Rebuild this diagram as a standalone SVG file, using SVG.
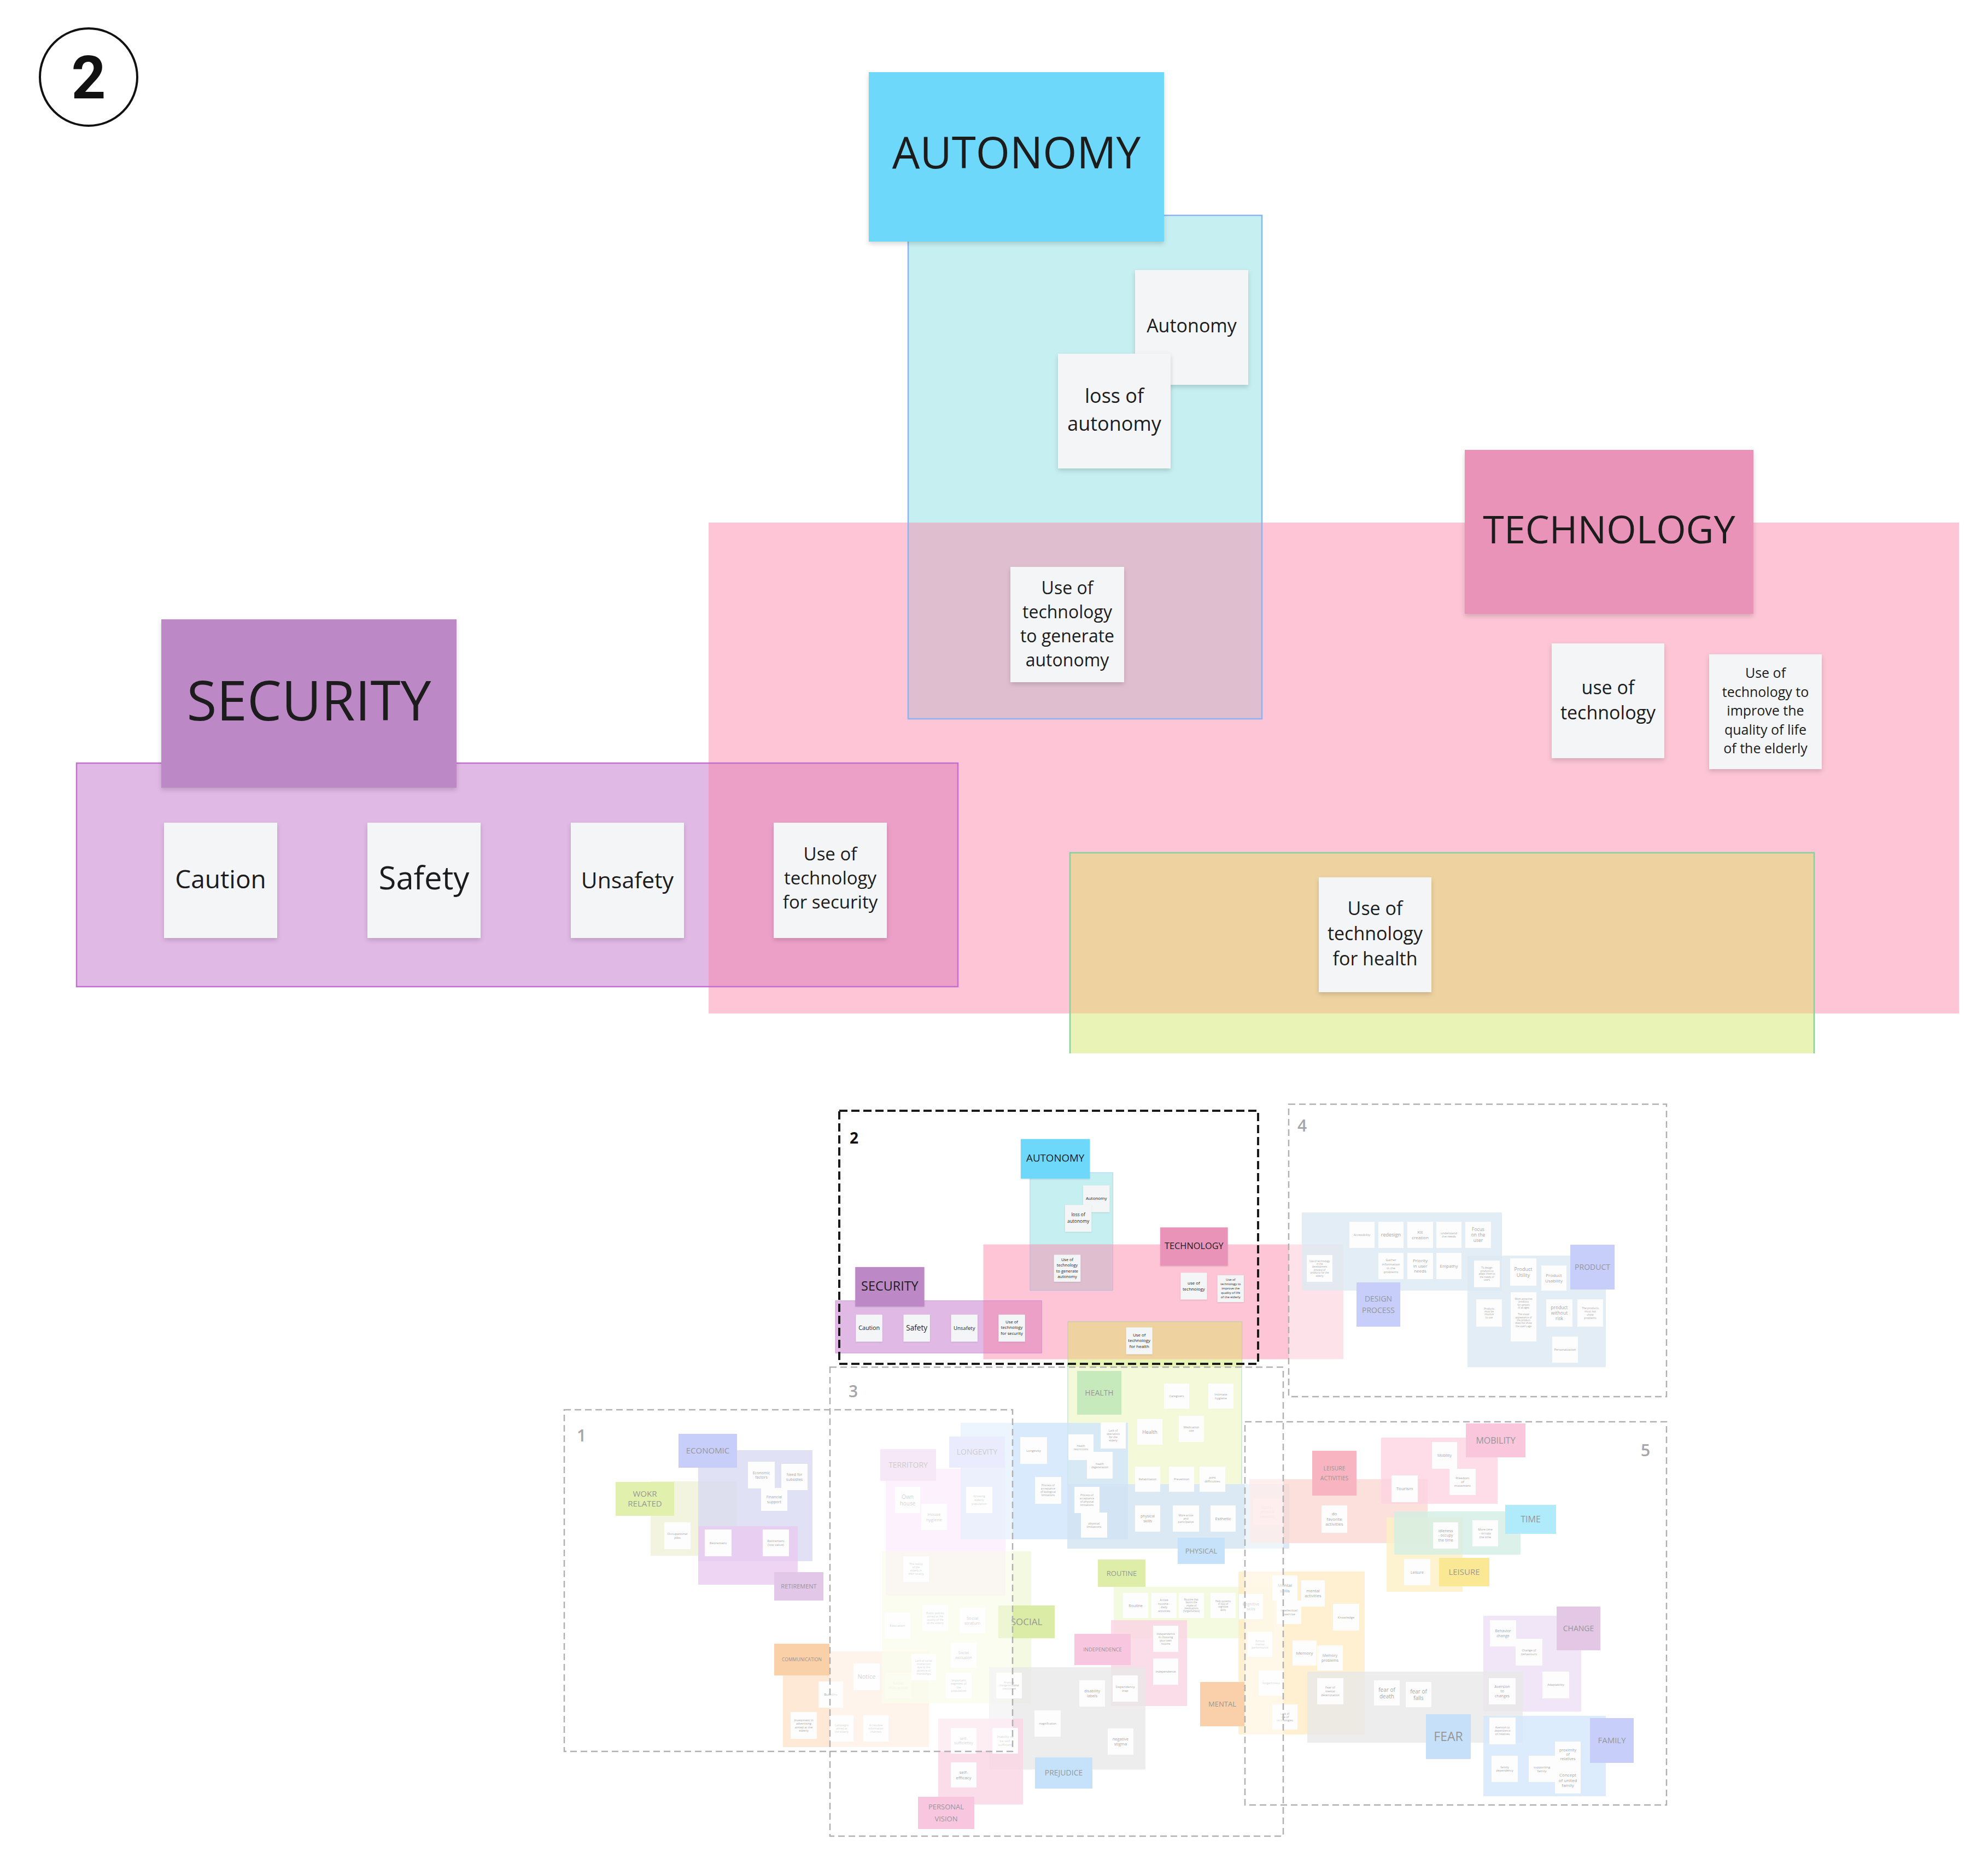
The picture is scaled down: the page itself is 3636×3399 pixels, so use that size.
<svg xmlns="http://www.w3.org/2000/svg" xmlns:xlink="http://www.w3.org/1999/xlink" width="3636" height="3399" viewBox="0 0 3636 3399">
<defs>
<filter id="sh" x="-10%" y="-10%" width="130%" height="130%"><feDropShadow dx="0" dy="4" stdDeviation="4" flood-color="#000" flood-opacity="0.16"/></filter>
<style>
.nt{font-family:"Open Sans","Liberation Sans",sans-serif;fill:#1c1c1c;text-anchor:middle}
.note{fill:#f4f5f7;filter:url(#sh)}
.hd{filter:url(#sh)}
.mn{fill:#fbfbfb}
.mt{font-family:"Open Sans","Liberation Sans",sans-serif;fill:#444;text-anchor:middle}
.mh{font-family:"Open Sans","Liberation Sans",sans-serif;fill:#2a2a2a;text-anchor:middle}
.ar{fill-opacity:0.8}
.fr{fill:none;stroke:#b0b0b0;stroke-width:2.5;stroke-dasharray:12 7}
.ov{fill:#fff;opacity:0.5}
.lb{font-family:"Open Sans","Liberation Sans",sans-serif;font-weight:600;font-size:30px;fill:#a6a6a6}
</style>
</defs>
<rect width="3636" height="3399" fill="#fff"/>

<g id="badge">
<circle cx="162" cy="141" r="89" fill="none" stroke="#111" stroke-width="4"/>
<text x="162" y="180" text-anchor="middle" font-family="Roboto,'Open Sans',sans-serif" font-weight="bold" font-size="110" fill="#111">2</text>
</g>

<g id="connectors"/>

<g id="board">
<g id="areas">
<rect x="1661" y="394" width="647" height="921" fill="#c6eff1"/>
<rect x="1296" y="956" width="2287" height="898" fill="#fdc5d5"/>
<rect x="140" y="1396" width="1612" height="409" fill="#e0b9e5"/>
<rect x="1957" y="1560" width="1361" height="367" fill="#e9f3b5"/>
<rect x="1661" y="956" width="647" height="359" fill="#dfbfcf"/>
<rect x="1296" y="1396" width="456" height="409" fill="#eca0c8"/>
<rect x="1957" y="1560" width="1361" height="294" fill="#eed3a0"/>
<rect x="1661" y="394" width="647" height="921" fill="none" stroke="#8bb5f2" stroke-width="2.5"/>
<rect x="140" y="1396" width="1612" height="409" fill="none" stroke="#c36fd0" stroke-width="2.5"/>
<path d="M1957 1927 V1560 H3318 V1927" fill="none" stroke="#86cfa0" stroke-width="2.5"/>
</g>
<g id="h-autonomy"><rect class="hd" x="1589" y="132" width="540" height="310" fill="#6dd8fa"/><text class="nt" x="1859" y="308" font-size="80">AUTONOMY</text></g>
<g id="h-technology"><rect class="hd" x="2679" y="823" width="528" height="300" fill="#ea93b9"/><text class="nt" x="2943" y="994" font-size="70">TECHNOLOGY</text></g>
<g id="h-security"><rect class="hd" x="295" y="1133" width="540" height="308" fill="#bd88c6"/><text class="nt" x="565" y="1318" font-size="100">SECURITY</text></g>
<g id="n-autonomy"><rect class="note" x="2076" y="494" width="207" height="210"/><text class="nt" x="2179.5" y="608" font-size="34">Autonomy</text></g>
<g id="n-loss"><rect class="note" x="1935" y="647" width="206" height="210"/><text class="nt" font-size="36" y="737"><tspan x="2038">loss of</tspan><tspan x="2038" dy="51">autonomy</tspan></text></g>
<g id="n-gen"><rect class="note" x="1848" y="1037" width="208" height="211"/><text class="nt" font-size="32" y="1087"><tspan x="1952">Use of</tspan><tspan x="1952" dy="44">technology</tspan><tspan x="1952" dy="44">to generate</tspan><tspan x="1952" dy="44">autonomy</tspan></text></g>
<g id="n-use"><rect class="note" x="2838" y="1177" width="206" height="210"/><text class="nt" font-size="34" y="1270"><tspan x="2941">use of</tspan><tspan x="2941" dy="46">technology</tspan></text></g>
<g id="n-improve"><rect class="note" x="3126" y="1197" width="206" height="210"/><text class="nt" font-size="25" y="1240"><tspan x="3229">Use of</tspan><tspan x="3229" dy="34.5">technology to</tspan><tspan x="3229" dy="34.5">improve the</tspan><tspan x="3229" dy="34.5">quality of life</tspan><tspan x="3229" dy="34.5">of the elderly</tspan></text></g>
<g id="n-caution"><rect class="note" x="300" y="1505" width="207" height="211"/><text class="nt" x="403.5" y="1625" font-size="46">Caution</text></g>
<g id="n-safety"><rect class="note" x="672" y="1505" width="207" height="211"/><text class="nt" x="775.5" y="1627" font-size="58">Safety</text></g>
<g id="n-unsafety"><rect class="note" x="1044" y="1505" width="207" height="211"/><text class="nt" x="1147.5" y="1625" font-size="41">Unsafety</text></g>
<g id="n-security"><rect class="note" x="1415" y="1505" width="207" height="211"/><text class="nt" font-size="33" y="1574"><tspan x="1518.5">Use of</tspan><tspan x="1518.5" dy="44">technology</tspan><tspan x="1518.5" dy="44">for security</tspan></text></g>
<g id="n-health"><rect class="note" x="2412" y="1605" width="206" height="210"/><text class="nt" font-size="34" y="1674"><tspan x="2515">Use of</tspan><tspan x="2515" dy="46">technology</tspan><tspan x="2515" dy="46">for health</tspan></text></g>
</g>

<g id="overview">
<rect x="2333" y="2276.5" width="124" height="210" fill="#fdc5d5"/>
<rect x="1953" y="2495" width="318" height="220" fill="#e9f3b5"/>
<path d="M1953 2495 V2715 M2271 2495 V2715" stroke="#86cfa0" stroke-width="1.5" fill="none"/>
<use xlink:href="#board" href="#board" transform="matrix(0.234 0 0 0.234 1495.2 2052.8)"/>

<g id="region4">
<rect class="ar" x="2381" y="2218" width="366" height="143" fill="#b8d2e6"/>
<rect class="ar" x="2684" y="2297" width="253" height="204" fill="#b8d2e6"/>
<g id="h-design"><rect x="2481" y="2346" width="80" height="81" fill="#8f9cf5"/><text class="mh" font-size="14" y="2381"><tspan x="2521">DESIGN</tspan><tspan x="2521" dy="21">PROCESS</tspan></text></g>
<g id="h-product"><rect x="2872" y="2277" width="81" height="82" fill="#8f9cf5"/><text class="mh" x="2912.5" y="2323" font-size="14">PRODUCT</text></g>
<g><rect class="mn" x="2468" y="2235" width="46" height="48"/><text class="mt" x="2491" y="2261" font-size="5.5">Accessibility</text></g>
<g><rect class="mn" x="2521" y="2235" width="46" height="48"/><text class="mt" x="2544" y="2262" font-size="9">redesign</text></g>
<g><rect class="mn" x="2574" y="2235" width="47" height="48"/><text class="mt" font-size="8" y="2257"><tspan x="2597.5">Kit</tspan><tspan x="2597.5" dy="9.6">creation</tspan></text></g>
<g><rect class="mn" x="2627" y="2235" width="46" height="48"/><text class="mt" font-size="5.5" y="2257.6"><tspan x="2650">understand</tspan><tspan x="2650" dy="6.6">the needs</tspan></text></g>
<g><rect class="mn" x="2680" y="2235" width="47" height="48"/><text class="mt" font-size="8.5" y="2251.8"><tspan x="2703.5">Focus</tspan><tspan x="2703.5" dy="10.2">on the</tspan><tspan x="2703.5" dy="10.2">user</tspan></text></g>
<g><rect class="mn" x="2521" y="2292" width="46" height="48"/><text class="mt" font-size="6" y="2307.3"><tspan x="2544">Gather</tspan><tspan x="2544" dy="7.2">information</tspan><tspan x="2544" dy="7.2">in the</tspan><tspan x="2544" dy="7.2">problems</tspan></text></g>
<g><rect class="mn" x="2574" y="2292" width="47" height="48"/><text class="mt" font-size="8" y="2309.2"><tspan x="2597.5">Priority</tspan><tspan x="2597.5" dy="9.6">in user</tspan><tspan x="2597.5" dy="9.6">needs</tspan></text></g>
<g><rect class="mn" x="2627" y="2292" width="46" height="48"/><text class="mt" x="2650" y="2318.8" font-size="8">Empathy</text></g>
<g><rect class="mn" x="2390" y="2296" width="47" height="49"/><text class="mt" font-size="4.5" y="2308.6"><tspan x="2413.5">Use of technology</tspan><tspan x="2413.5" dy="5.4">in the</tspan><tspan x="2413.5" dy="5.4">development</tspan><tspan x="2413.5" dy="5.4">process of</tspan><tspan x="2413.5" dy="5.4">products for the</tspan><tspan x="2413.5" dy="5.4">elderly</tspan></text></g>
<g><rect class="mn" x="2696" y="2306" width="47" height="49"/><text class="mt" font-size="4.5" y="2321.3"><tspan x="2719.5">To design</tspan><tspan x="2719.5" dy="5.4">products to</tspan><tspan x="2719.5" dy="5.4">adapt them to</tspan><tspan x="2719.5" dy="5.4">the needs of</tspan><tspan x="2719.5" dy="5.4">users</tspan></text></g>
<g><rect class="mn" x="2762" y="2302" width="48" height="50"/><text class="mt" font-size="9" y="2324.8"><tspan x="2786">Product</tspan><tspan x="2786" dy="10.8">Utility</tspan></text></g>
<g><rect class="mn" x="2819" y="2315" width="46" height="46"/><text class="mt" font-size="8" y="2336"><tspan x="2842">Product</tspan><tspan x="2842" dy="9.6">Usability</tspan></text></g>
<g><rect class="mn" x="2700" y="2377" width="47" height="50"/><text class="mt" font-size="4.5" y="2395.5"><tspan x="2723.5">Products</tspan><tspan x="2723.5" dy="5.4">must be</tspan><tspan x="2723.5" dy="5.4">intuitive</tspan><tspan x="2723.5" dy="5.4">to use</tspan></text></g>
<g><rect class="mn" x="2763" y="2364" width="47" height="90"/><text class="mt" font-size="4.5" y="2378"><tspan x="2786.5">More attractive</tspan><tspan x="2786.5" dy="5.4">products</tspan><tspan x="2786.5" dy="5.4">for seniors</tspan><tspan x="2786.5" dy="5.4">of all ages</tspan><tspan x="2786.5" dy="12">The visual</tspan><tspan x="2786.5" dy="5.4">appearance of</tspan><tspan x="2786.5" dy="5.4">the product</tspan><tspan x="2786.5" dy="5.4">does not show</tspan><tspan x="2786.5" dy="5.4">the user's age</tspan></text></g>
<g><rect class="mn" x="2828" y="2377" width="48" height="50"/><text class="mt" font-size="8.5" y="2394.8"><tspan x="2852">product</tspan><tspan x="2852" dy="10.2">without</tspan><tspan x="2852" dy="10.2">risk</tspan></text></g>
<g><rect class="mn" x="2885" y="2377" width="47" height="50"/><text class="mt" font-size="5" y="2394.8"><tspan x="2908.5">The products</tspan><tspan x="2908.5" dy="6">must not</tspan><tspan x="2908.5" dy="6">show</tspan><tspan x="2908.5" dy="6">problems</tspan></text></g>
<g><rect class="mn" x="2839" y="2445" width="47" height="48"/><text class="mt" x="2862.5" y="2471" font-size="5.5">Personalization</text></g>
</g>

<g id="region1">
<rect class="ar" x="1190" y="2710" width="157" height="136" fill="#dfe3b0"/>
<rect class="ar" x="1277" y="2653" width="209" height="203" fill="#b0b3e6"/>
<rect class="ar" x="1277" y="2792" width="182" height="107" fill="#d596e4"/>
<rect class="ar" x="1432" y="3021" width="267" height="175" fill="#fcc89a"/>
<g id="h-economic"><rect x="1241" y="2623" width="107" height="62" fill="#8f9cf5"/><text class="mh" x="1294.5" y="2659" font-size="15">ECONOMIC</text></g>
<g id="h-work"><rect x="1126" y="2711" width="107" height="62" fill="#c2e05a"/><text class="mh" font-size="15" y="2738"><tspan x="1179.5">WOKR</tspan><tspan x="1179.5" dy="18">RELATED</tspan></text></g>
<g id="h-retirement"><rect x="1416" y="2876" width="90" height="52" fill="#c58fd3"/><text class="mh" x="1461" y="2906" font-size="11">RETIREMENT</text></g>
<g id="h-communication"><rect x="1416" y="3007" width="101" height="58" fill="#f5a050"/><text class="mh" x="1466.5" y="3039" font-size="8.5">COMMUNICATION</text></g>
<g><rect class="mn" x="1368" y="2674" width="49" height="49"/><text class="mt" font-size="7" y="2696.7"><tspan x="1392.5">Economic</tspan><tspan x="1392.5" dy="8.4">factors</tspan></text></g>
<g><rect class="mn" x="1429" y="2678" width="48" height="48"/><text class="mt" font-size="7" y="2700.3"><tspan x="1453">Need for</tspan><tspan x="1453" dy="8.4">subsidies</tspan></text></g>
<g><rect class="mn" x="1392" y="2722" width="48" height="42"/><text class="mt" font-size="7" y="2741.3"><tspan x="1416">Financial</tspan><tspan x="1416" dy="8.4">support</tspan></text></g>
<g><rect class="mn" x="1215" y="2785" width="48" height="49"/><text class="mt" font-size="6" y="2808"><tspan x="1239">Occupational</tspan><tspan x="1239" dy="7.2">jobs</tspan></text></g>
<g><rect class="mn" x="1289" y="2798" width="49" height="49"/><text class="mt" x="1313.5" y="2824.6" font-size="6">Retirement</text></g>
<g><rect class="mn" x="1395" y="2798" width="48" height="49"/><text class="mt" font-size="6" y="2821"><tspan x="1419">Retirement</tspan><tspan x="1419" dy="7.2">(low value)</tspan></text></g>
<g><rect class="mn" x="1497" y="3076" width="45" height="48"/><text class="mt" x="1519.5" y="3102" font-size="6">Bulletins</text></g>
<g><rect class="mn" x="1561" y="3043" width="48" height="49"/><text class="mt" x="1585" y="3071.4" font-size="11">Notice</text></g>
<g><rect class="mn" x="1619" y="3060" width="48" height="47"/><text class="mt" font-size="7" y="3081.8"><tspan x="1643">Social</tspan><tspan x="1643" dy="8.4">interaction</tspan></text></g>
<g><rect class="mn" x="1446" y="3132" width="48" height="49"/><text class="mt" font-size="5.5" y="3148.5"><tspan x="1470">Investment in</tspan><tspan x="1470" dy="6.6">advertising</tspan><tspan x="1470" dy="6.6">aimed at the</tspan><tspan x="1470" dy="6.6">elderly</tspan></text></g>
<g><rect class="mn" x="1518" y="3138" width="43" height="48"/><text class="mt" font-size="5" y="3157.8"><tspan x="1539.5">Campaigns</tspan><tspan x="1539.5" dy="6">aimed at</tspan><tspan x="1539.5" dy="6">the elderly</tspan></text></g>
<g><rect class="mn" x="1579" y="3138" width="46" height="48"/><text class="mt" font-size="5" y="3157.8"><tspan x="1602">Accessible</tspan><tspan x="1602" dy="6">information</tspan><tspan x="1602" dy="6">channels</tspan></text></g>
</g>

<g id="region3">
<rect class="ar" x="1613" y="2838" width="273" height="278" fill="#e4f2b4"/>
<rect class="ar" x="1620" y="2687" width="219" height="151" fill="#f0b8ee"/>
<rect class="ar" x="1620" y="2838" width="219" height="81" fill="#e8d2c4"/>
<rect class="ar" x="1757" y="2603" width="306" height="213" fill="#9ccbf5"/>
<rect class="ar" x="1757" y="2685" width="82" height="131" fill="#b4b8f0"/>
<rect class="ar" x="1952" y="2715" width="406" height="118" fill="#a5c8e3"/>
<rect class="ar" x="2037" y="2903" width="293" height="94" fill="#e2f1b0"/>
<rect class="ar" x="2032" y="2964" width="139" height="157" fill="#f5a8c8"/>
<rect class="ar" x="1809" y="3050" width="286" height="187" fill="#d2d2d2"/>
<rect class="ar" x="1716" y="3144" width="155" height="157" fill="#f5a8c8"/>
<rect class="ar" x="2265" y="2875" width="231" height="298" fill="#fcd98a"/>
<g id="h-territory"><rect x="1610" y="2651" width="102" height="58" fill="#d9a0dc"/><text class="mh" x="1661" y="2685" font-size="14">TERRITORY</text></g>
<g id="h-longevity"><rect x="1736" y="2628" width="102" height="57" fill="#a8b2f6"/><text class="mh" x="1787" y="2661.4" font-size="14">LONGEVITY</text></g>
<g id="h-health"><rect x="1970" y="2508" width="81" height="80" fill="#8fd47a"/><text class="mh" x="2010.5" y="2553" font-size="14">HEALTH</text></g>
<g id="h-physical"><rect x="2154" y="2813" width="86" height="48" fill="#8cc4f5"/><text class="mh" x="2197" y="2841.5" font-size="13">PHYSICAL</text></g>
<g id="h-routine"><rect x="2008" y="2853" width="87" height="50" fill="#bcdc50"/><text class="mh" x="2051.5" y="2882.5" font-size="13">ROUTINE</text></g>
<g id="h-social"><rect x="1826" y="2937" width="103" height="60" fill="#b5d84a"/><text class="mh" x="1877.5" y="2973" font-size="17">SOCIAL</text></g>
<g id="h-independence"><rect x="1965" y="2989" width="103" height="57" fill="#f28cc0"/><text class="mh" x="2016.5" y="3020.8" font-size="9.5">INDEPENDENCE</text></g>
<g id="h-prejudice"><rect x="1893" y="3215" width="105" height="57" fill="#8cc4f5"/><text class="mh" x="1945.5" y="3248.4" font-size="14">PREJUDICE</text></g>
<g id="h-personal"><rect x="1679" y="3287" width="103" height="59" fill="#f28cc0"/><text class="mh" font-size="13" y="3309.5"><tspan x="1730.5">PERSONAL</tspan><tspan x="1730.5" dy="22">VISION</tspan></text></g>
<g id="h-mental"><rect x="2195" y="3077" width="81" height="81" fill="#f5a054"/><text class="mh" x="2235.5" y="3122" font-size="13">MENTAL</text></g>
<g><rect class="mn" x="1637" y="2720" width="46" height="48"/><text class="mt" font-size="10" y="2741.5"><tspan x="1660">Own</tspan><tspan x="1660" dy="12">house</tspan></text></g>
<g><rect class="mn" x="1685" y="2751" width="47" height="48"/><text class="mt" font-size="8" y="2773"><tspan x="1708.5">House</tspan><tspan x="1708.5" dy="9.6">hygiene</tspan></text></g>
<g><rect class="mn" x="1767" y="2720" width="48" height="48"/><text class="mt" font-size="5.5" y="2739.3"><tspan x="1791">Growing</tspan><tspan x="1791" dy="6.6">elderly</tspan><tspan x="1791" dy="6.6">population</tspan></text></g>
<g><rect class="mn" x="1652" y="2847" width="47" height="47"/><text class="mt" font-size="5" y="2863.3"><tspan x="1675.5">The reality</tspan><tspan x="1675.5" dy="6">of the</tspan><tspan x="1675.5" dy="6">elderly in</tspan><tspan x="1675.5" dy="6">their locality</tspan></text></g>
<g><rect class="mn" x="1618" y="2950" width="47" height="48"/><text class="mt" x="1641.5" y="2976" font-size="6">Education</text></g>
<g><rect class="mn" x="1687" y="2936" width="47" height="48"/><text class="mt" font-size="5" y="2952.8"><tspan x="1710.5">Public policies</tspan><tspan x="1710.5" dy="6">aimed at the</tspan><tspan x="1710.5" dy="6">quality of life</tspan><tspan x="1710.5" dy="6">of the elderly</tspan></text></g>
<g><rect class="mn" x="1755" y="2941" width="47" height="47"/><text class="mt" font-size="8" y="2962.5"><tspan x="1778.5">Social</tspan><tspan x="1778.5" dy="9.6">stratum</tspan></text></g>
<g><rect class="mn" x="1739" y="3005" width="47" height="46"/><text class="mt" font-size="7" y="3026.3"><tspan x="1762.5">Social</tspan><tspan x="1762.5" dy="8.4">exclusion</tspan></text></g>
<g><rect class="mn" x="1730" y="3060" width="47" height="47"/><text class="mt" font-size="5.5" y="3075.5"><tspan x="1753.5">Important</tspan><tspan x="1753.5" dy="6.6">segment of</tspan><tspan x="1753.5" dy="6.6">the</tspan><tspan x="1753.5" dy="6.6">population</tspan></text></g>
<g><rect class="mn" x="1667" y="3026" width="45" height="48"/><text class="mt" font-size="5" y="3039.8"><tspan x="1689.5">Lack of social</tspan><tspan x="1689.5" dy="6">interaction</tspan><tspan x="1689.5" dy="6">due to the</tspan><tspan x="1689.5" dy="6">absence of</tspan><tspan x="1689.5" dy="6">friendships</tspan></text></g>
<g><rect class="mn" x="1822" y="3060" width="47" height="47"/><text class="mt" font-size="4.5" y="3079.7"><tspan x="1845.5">Promote</tspan><tspan x="1845.5" dy="5.4">intergenerational</tspan><tspan x="1845.5" dy="5.4">coexistence</tspan></text></g>
<g><rect class="mn" x="1866" y="2629" width="49" height="49"/><text class="mt" x="1890.5" y="2655.6" font-size="6">Longevity</text></g>
<g><rect class="mn" x="1893" y="2702" width="48" height="49"/><text class="mt" font-size="5" y="2719.3"><tspan x="1917">Process of</tspan><tspan x="1917" dy="6">acceptance</tspan><tspan x="1917" dy="6">of biological</tspan><tspan x="1917" dy="6">limitations</tspan></text></g>
<g><rect class="mn" x="2013" y="2602" width="46" height="48"/><text class="mt" font-size="5" y="2618.8"><tspan x="2036">Lack of</tspan><tspan x="2036" dy="6">specialists</tspan><tspan x="2036" dy="6">for the</tspan><tspan x="2036" dy="6">elderly</tspan></text></g>
<g><rect class="mn" x="1954" y="2624" width="46" height="47"/><text class="mt" font-size="5" y="2646.8"><tspan x="1977">health</tspan><tspan x="1977" dy="6">restrictions</tspan></text></g>
<g><rect class="mn" x="1988" y="2656" width="47" height="49"/><text class="mt" font-size="5" y="2679.8"><tspan x="2011.5">health</tspan><tspan x="2011.5" dy="6">degeneration</tspan></text></g>
<g><rect class="mn" x="2129" y="2531" width="46" height="46"/><text class="mt" x="2152" y="2556" font-size="5.5">Caregivers</text></g>
<g><rect class="mn" x="2210" y="2531" width="46" height="46"/><text class="mt" font-size="6" y="2552.5"><tspan x="2233">Intimate</tspan><tspan x="2233" dy="7.2">hygiene</tspan></text></g>
<g><rect class="mn" x="2080" y="2596" width="46" height="47"/><text class="mt" x="2103" y="2622.6" font-size="9">Health</text></g>
<g><rect class="mn" x="2156" y="2590" width="46" height="48"/><text class="mt" font-size="5.5" y="2612.6"><tspan x="2179">Medication</tspan><tspan x="2179" dy="6.6">use</tspan></text></g>
<g><rect class="mn" x="2076" y="2683" width="46" height="46"/><text class="mt" x="2099" y="2707.8" font-size="5">Rehabilitation</text></g>
<g><rect class="mn" x="2138" y="2683" width="46" height="46"/><text class="mt" x="2161" y="2707.9" font-size="5.5">Prevention</text></g>
<g><rect class="mn" x="2194" y="2683" width="47" height="46"/><text class="mt" font-size="6" y="2704.5"><tspan x="2217.5">joint</tspan><tspan x="2217.5" dy="7.2">difficulties</tspan></text></g>
<g><rect class="mn" x="1965" y="2720" width="46" height="48"/><text class="mt" font-size="5" y="2736.8"><tspan x="1988">Process of</tspan><tspan x="1988" dy="6">acceptance</tspan><tspan x="1988" dy="6">of physical</tspan><tspan x="1988" dy="6">limitations</tspan></text></g>
<g><rect class="mn" x="1977" y="2767" width="48" height="46"/><text class="mt" font-size="5.5" y="2788.6"><tspan x="2001">physical</tspan><tspan x="2001" dy="6.6">limitations</tspan></text></g>
<g><rect class="mn" x="2076" y="2754" width="46" height="48"/><text class="mt" font-size="7" y="2776.3"><tspan x="2099">physical</tspan><tspan x="2099" dy="8.4">skills</tspan></text></g>
<g><rect class="mn" x="2145" y="2754" width="48" height="48"/><text class="mt" font-size="5" y="2773.8"><tspan x="2169">More active</tspan><tspan x="2169" dy="6">and</tspan><tspan x="2169" dy="6">participative</tspan></text></g>
<g><rect class="mn" x="2214" y="2754" width="46" height="48"/><text class="mt" x="2237" y="2780.8" font-size="8">Esthetic</text></g>
<g><rect class="mn" x="2292" y="2742" width="52" height="48"/><text class="mt" font-size="7" y="2760"><tspan x="2318">Sport /</tspan><tspan x="2318" dy="8.4">physical</tspan><tspan x="2318" dy="8.4">exercise</tspan></text></g>
<g><rect class="mn" x="2054" y="2914" width="46" height="46"/><text class="mt" x="2077" y="2939.5" font-size="7">Routine</text></g>
<g><rect class="mn" x="2106" y="2914" width="46" height="46"/><text class="mt" font-size="5.5" y="2929"><tspan x="2129">Active</tspan><tspan x="2129" dy="6.6">routine -</tspan><tspan x="2129" dy="6.6">daily</tspan><tspan x="2129" dy="6.6">activities</tspan></text></g>
<g><rect class="mn" x="2156" y="2914" width="46" height="46"/><text class="mt" font-size="4.5" y="2927.8"><tspan x="2179">Routine that</tspan><tspan x="2179" dy="5.4">favors the</tspan><tspan x="2179" dy="5.4">intake of</tspan><tspan x="2179" dy="5.4">medications</tspan><tspan x="2179" dy="5.4">(forgetfulness)</tspan></text></g>
<g><rect class="mn" x="2214" y="2914" width="46" height="46"/><text class="mt" font-size="4.5" y="2930.5"><tspan x="2237">Help systems</tspan><tspan x="2237" dy="5.4">in loss of</tspan><tspan x="2237" dy="5.4">cognitive</tspan><tspan x="2237" dy="5.4">skills</tspan></text></g>
<g><rect class="mn" x="2266" y="2916" width="44" height="46"/><text class="mt" font-size="7" y="2937.3"><tspan x="2288">Cognitive</tspan><tspan x="2288" dy="8.4">skills</tspan></text></g>
<g><rect class="mn" x="2109" y="2974" width="46" height="48"/><text class="mt" font-size="5" y="2990.8"><tspan x="2132">Independence</tspan><tspan x="2132" dy="6">in choosing</tspan><tspan x="2132" dy="6">your own</tspan><tspan x="2132" dy="6">routine</tspan></text></g>
<g><rect class="mn" x="2109" y="3034" width="46" height="48"/><text class="mt" x="2132" y="3059.9" font-size="5.5">Independence</text></g>
<g><rect class="mn" x="2035" y="3065" width="46" height="48"/><text class="mt" font-size="6" y="3087.5"><tspan x="2058">Dependency</tspan><tspan x="2058" dy="7.2">trap</tspan></text></g>
<g><rect class="mn" x="1974" y="3074" width="47" height="48"/><text class="mt" font-size="7" y="3096.3"><tspan x="1997.5">disability</tspan><tspan x="1997.5" dy="8.4">labels</tspan></text></g>
<g><rect class="mn" x="1892" y="3129" width="48" height="48"/><text class="mt" x="1916" y="3154.8" font-size="5">magnification</text></g>
<g><rect class="mn" x="2026" y="3162" width="47" height="48"/><text class="mt" font-size="7.5" y="3184.1"><tspan x="2049.5">negative</tspan><tspan x="2049.5" dy="9">stigma</tspan></text></g>
<g><rect class="mn" x="1739" y="3161" width="47" height="47"/><text class="mt" font-size="7" y="3182.8"><tspan x="1762.5">self-</tspan><tspan x="1762.5" dy="8.4">sufficiency</tspan></text></g>
<g><rect class="mn" x="1739" y="3224" width="47" height="46"/><text class="mt" font-size="8" y="3245"><tspan x="1762.5">self-</tspan><tspan x="1762.5" dy="9.6">efficacy</tspan></text></g>
<g><rect class="mn" x="1815" y="3161" width="47" height="47"/><text class="mt" font-size="6" y="3179.4"><tspan x="1838.5">Inability to</tspan><tspan x="1838.5" dy="7.2">be self-</tspan><tspan x="1838.5" dy="7.2">sufficient</tspan></text></g>
</g>

<g id="region5">
<rect class="ar" x="2285" y="2706" width="326" height="117" fill="#f8b0a8"/>
<rect class="ar" x="2526" y="2630" width="213" height="121" fill="#fba8c6"/>
<rect class="ar" x="2536" y="2776" width="139" height="136" fill="#fde08a"/>
<rect class="ar" x="2550" y="2765" width="231" height="79" fill="#a8dcc8"/>
<rect class="ar" x="2713" y="2956" width="179" height="175" fill="#dcc0ec"/>
<rect class="ar" x="2391" y="3058" width="394" height="130" fill="#d2d2d2"/>
<rect class="ar" x="2713" y="3139" width="224" height="147" fill="#a8d0f8"/>
<g id="h-mobility"><rect x="2681" y="2604" width="109" height="62" fill="#f28cb8"/><text class="mh" x="2735.5" y="2640.6" font-size="16">MOBILITY</text></g>
<g id="h-leisureact"><rect x="2400" y="2654" width="81" height="82" fill="#f06a82"/><text class="mh" font-size="10.5" y="2689.7"><tspan x="2440.5">LEISURE</tspan><tspan x="2440.5" dy="18">ACTIVITIES</tspan></text></g>
<g id="h-time"><rect x="2753" y="2753" width="93" height="53" fill="#5fd6f5"/><text class="mh" x="2799.5" y="2785" font-size="16">TIME</text></g>
<g id="h-leisure"><rect x="2632" y="2850" width="92" height="52" fill="#f5d02a"/><text class="mh" x="2678" y="2881.3" font-size="15">LEISURE</text></g>
<g id="h-change"><rect x="2847" y="2939" width="80" height="80" fill="#c98ccb"/><text class="mh" x="2887" y="2984" font-size="14">CHANGE</text></g>
<g id="h-fear"><rect x="2608" y="3136" width="82" height="82" fill="#8cc0f5"/><text class="mh" x="2649" y="3185" font-size="23">FEAR</text></g>
<g id="h-family"><rect x="2908" y="3143" width="80" height="82" fill="#8f9cf5"/><text class="mh" x="2948" y="3189.3" font-size="15">FAMILY</text></g>
<g><rect class="mn" x="2327" y="2882" width="46" height="46"/><text class="mt" font-size="8" y="2903"><tspan x="2350">Mental</tspan><tspan x="2350" dy="9.6">skills</tspan></text></g>
<g><rect class="mn" x="2380" y="2891" width="43" height="48"/><text class="mt" font-size="7.5" y="2913.1"><tspan x="2401.5">mental</tspan><tspan x="2401.5" dy="9">activities</tspan></text></g>
<g><rect class="mn" x="2335" y="2928" width="45" height="43"/><text class="mt" font-size="6" y="2948"><tspan x="2357.5">Intellectual</tspan><tspan x="2357.5" dy="7.2">exercise</tspan></text></g>
<g><rect class="mn" x="2438" y="2934" width="48" height="49"/><text class="mt" x="2462" y="2960.6" font-size="6">Knowledge</text></g>
<g><rect class="mn" x="2364" y="3001" width="44" height="46"/><text class="mt" x="2386" y="3026.8" font-size="8">Memory</text></g>
<g><rect class="mn" x="2409" y="3010" width="47" height="46"/><text class="mt" font-size="7" y="3031.3"><tspan x="2432.5">Memory</tspan><tspan x="2432.5" dy="8.4">problems</tspan></text></g>
<g><rect class="mn" x="2282" y="2985" width="45" height="46"/><text class="mt" font-size="5" y="3003.8"><tspan x="2304.5">Pursuit</tspan><tspan x="2304.5" dy="6">mental</tspan><tspan x="2304.5" dy="6">performance</tspan></text></g>
<g><rect class="mn" x="2302" y="3056" width="46" height="46"/><text class="mt" x="2325" y="3080.8" font-size="5">Forgetfulness</text></g>
<g><rect class="mn" x="2327" y="3118" width="46" height="46"/><text class="mt" font-size="5" y="3136.8"><tspan x="2350">Lack of</tspan><tspan x="2350" dy="6">use of</tspan><tspan x="2350" dy="6">technologies</tspan></text></g>
<g><rect class="mn" x="2409" y="3070" width="48" height="48"/><text class="mt" font-size="5.5" y="3089.3"><tspan x="2433">Fear of</tspan><tspan x="2433" dy="6.6">mental</tspan><tspan x="2433" dy="6.6">deterioration</tspan></text></g>
<g><rect class="mn" x="2619" y="2638" width="46" height="49"/><text class="mt" x="2642" y="2665" font-size="7">Mobility</text></g>
<g><rect class="mn" x="2651" y="2687" width="48" height="48"/><text class="mt" font-size="6" y="2705.9"><tspan x="2675">Freedom</tspan><tspan x="2675" dy="7.2">of</tspan><tspan x="2675" dy="7.2">movement</tspan></text></g>
<g><rect class="mn" x="2545" y="2699" width="48" height="49"/><text class="mt" x="2569" y="2726.3" font-size="8">Tourism</text></g>
<g><rect class="mn" x="2417" y="2754" width="47" height="50"/><text class="mt" font-size="8" y="2772.2"><tspan x="2440.5">do</tspan><tspan x="2440.5" dy="9.6">favorite</tspan><tspan x="2440.5" dy="9.6">activities</tspan></text></g>
<g><rect class="mn" x="2621" y="2785" width="46" height="48"/><text class="mt" font-size="7" y="2803"><tspan x="2644">idleness</tspan><tspan x="2644" dy="8.4">- occupy</tspan><tspan x="2644" dy="8.4">the time</tspan></text></g>
<g><rect class="mn" x="2693" y="2781" width="47" height="48"/><text class="mt" font-size="5.5" y="2800.3"><tspan x="2716.5">More time</tspan><tspan x="2716.5" dy="6.6">- occupy</tspan><tspan x="2716.5" dy="6.6">the time</tspan></text></g>
<g><rect class="mn" x="2568" y="2852" width="48" height="48"/><text class="mt" x="2592" y="2878.5" font-size="7">Leisure</text></g>
<g><rect class="mn" x="2725" y="2964" width="48" height="48"/><text class="mt" font-size="7" y="2986.3"><tspan x="2749">Behavior</tspan><tspan x="2749" dy="8.4">change</tspan></text></g>
<g><rect class="mn" x="2772" y="2998" width="49" height="49"/><text class="mt" font-size="5.5" y="3021.1"><tspan x="2796.5">Change of</tspan><tspan x="2796.5" dy="6.6">behaviours</tspan></text></g>
<g><rect class="mn" x="2821" y="3058" width="49" height="49"/><text class="mt" x="2845.5" y="3084.4" font-size="5.5">Adaptability</text></g>
<g><rect class="mn" x="2723" y="3070" width="49" height="48"/><text class="mt" font-size="7" y="3088"><tspan x="2747.5">Aversion</tspan><tspan x="2747.5" dy="8.4">to</tspan><tspan x="2747.5" dy="8.4">changes</tspan></text></g>
<g><rect class="mn" x="2513" y="3074" width="47" height="46"/><text class="mt" font-size="10" y="3094.5"><tspan x="2536.5">fear of</tspan><tspan x="2536.5" dy="12">death</tspan></text></g>
<g><rect class="mn" x="2571" y="3077" width="47" height="46"/><text class="mt" font-size="10" y="3097.5"><tspan x="2594.5">fear of</tspan><tspan x="2594.5" dy="12">falls</tspan></text></g>
<g><rect class="mn" x="2724" y="3142" width="48" height="49"/><text class="mt" font-size="5" y="3162.3"><tspan x="2748">Aversion to</tspan><tspan x="2748" dy="6">dependence</tspan><tspan x="2748" dy="6">on relatives</tspan></text></g>
<g><rect class="mn" x="2728" y="3212" width="48" height="48"/><text class="mt" font-size="5.5" y="3234.6"><tspan x="2752">family</tspan><tspan x="2752" dy="6.6">dependency</tspan></text></g>
<g><rect class="mn" x="2796" y="3212" width="48" height="48"/><text class="mt" font-size="6" y="3234.5"><tspan x="2820">supporting</tspan><tspan x="2820" dy="7.2">family</tspan></text></g>
<g><rect class="mn" x="2844" y="3186" width="47" height="47"/><text class="mt" font-size="7" y="3203.6"><tspan x="2867.5">proximity</tspan><tspan x="2867.5" dy="8.4">of</tspan><tspan x="2867.5" dy="8.4">relatives</tspan></text></g>
<g><rect class="mn" x="2844" y="3233" width="47" height="48"/><text class="mt" font-size="8" y="3250.2"><tspan x="2867.5">Concept</tspan><tspan x="2867.5" dy="9.6">of united</tspan><tspan x="2867.5" dy="9.6">family</tspan></text></g>
</g>

<g id="fades">
<rect class="ov" x="1032" y="2579" width="820" height="625"/>
<rect class="ov" x="1518" y="2501" width="829" height="858"/>
<rect class="ov" x="2357" y="2020" width="691" height="535"/>
<rect class="ov" x="2277" y="2601" width="771" height="701"/>
</g>

<g id="frames">
<rect class="fr" x="1032" y="2579" width="820" height="625"/>
<rect class="fr" x="1518" y="2501" width="829" height="858"/>
<rect class="fr" x="2357" y="2020" width="691" height="535"/>
<rect class="fr" x="2277" y="2601" width="771" height="701"/>
<rect x="1535" y="2032" width="766" height="463" fill="none" stroke="#1a1a1a" stroke-width="4" stroke-dasharray="15 7"/>
<text class="lb" x="1055" y="2637">1</text>
<text x="1554" y="2092" font-family="'Open Sans','Liberation Sans',sans-serif" font-weight="bold" font-size="28" fill="#111">2</text>
<text class="lb" x="1552" y="2556">3</text>
<text class="lb" x="2373" y="2070">4</text>
<text class="lb" x="3001" y="2664">5</text>
</g>
</g>
</svg>
